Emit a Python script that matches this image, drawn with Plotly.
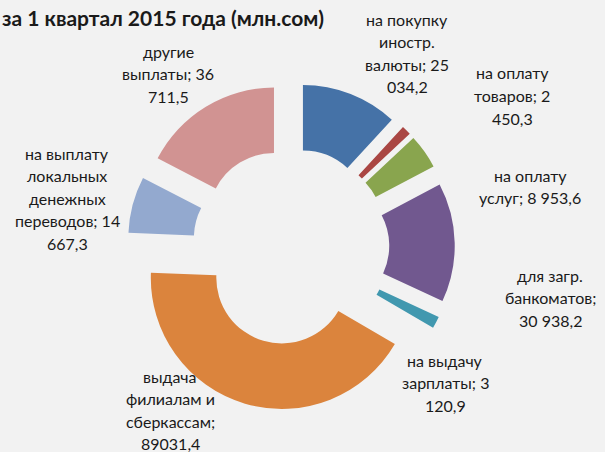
import plotly.graph_objects as go

# ---- data ----
categories = [
    "на покупку иностр. валюты",
    "на оплату товаров",
    "на оплату услуг",
    "для загр. банкоматов",
    "на выдачу зарплаты",
    "выдача филиалам и сберкассам",
    "на выплату локальных денежных переводов",
    "другие выплаты",
]
values = [25034.2, 2450.3, 8953.6, 30938.2, 3120.9, 89031.4, 14667.3, 36711.5]
data_labels = [
    "на покупку<br>иностр.<br>валюты; 25<br>034,2",
    "на оплату<br>товаров; 2<br>450,3",
    "на оплату<br>услуг; 8 953,6",
    "для загр.<br>банкоматов;<br>30 938,2",
    "на выдачу<br>зарплаты; 3<br>120,9",
    "выдача<br>филиалам и<br>сберкассам;<br>89031,4",
    "на выплату<br>локальных<br>денежных<br>переводов; 14<br>667,3",
    "другие<br>выплаты; 36<br>711,5",
]
title_text = "за 1 квартал 2015 года (млн.сом)"

# ---- styles / layout ----
colors = ["#4572A7", "#AA4643", "#89A54E", "#71588F",
          "#4198AF", "#DB843D", "#93A9CF", "#D19392"]
# label anchor: centre x and first-line y, in pixels from top-left
label_pos = [(407, 21), (512, 75), (530, 177), (550, 277),
             (445, 362), (170, 378), (67, 155), (168, 53)]
LINE_STEP = 22.5

W, H = 605, 452
FONT = "Lato, 'Liberation Sans', sans-serif"
BG = "#F2F2F2"

fig = go.Figure(go.Pie(
    labels=categories,
    values=values,
    sort=False,
    direction="clockwise",
    rotation=0,
    hole=0.5,
    pull=[0.25] * len(values),
    marker=dict(colors=colors, line=dict(width=0)),
    textinfo="none",
    hoverinfo="label+value",
    showlegend=False,
    domain=dict(x=[0.2103, 0.7517], y=[0.0924, 0.8169]),
))

annotations = []
for txt, (px, py) in zip(data_labels, label_pos):
    for k, line in enumerate(txt.split("<br>")):
        yy = py + k * LINE_STEP - 2
        annotations.append(dict(
            x=px / W, y=1 - yy / H, xref="paper", yref="paper",
            text=line, showarrow=False, xanchor="center", yanchor="middle",
            font=dict(family=FONT, size=16, color="#1a1a1a"),
        ))
annotations.append(dict(
    x=0, y=1 - 17 / H, xref="paper", yref="paper",
    text="<b>" + title_text + "</b>", showarrow=False,
    xanchor="left", yanchor="middle",
    font=dict(family=FONT, size=21, color="#1a1a1a"),
))

fig.update_layout(
    width=W, height=H,
    margin=dict(l=0, r=0, t=0, b=0),
    paper_bgcolor=BG,
    plot_bgcolor=BG,
    annotations=annotations,
)

fig.write_html(
    "out.html",
    config={"displayModeBar": False},
    post_script="document.body.style.margin='0';document.body.style.background='%s';" % BG,
)
